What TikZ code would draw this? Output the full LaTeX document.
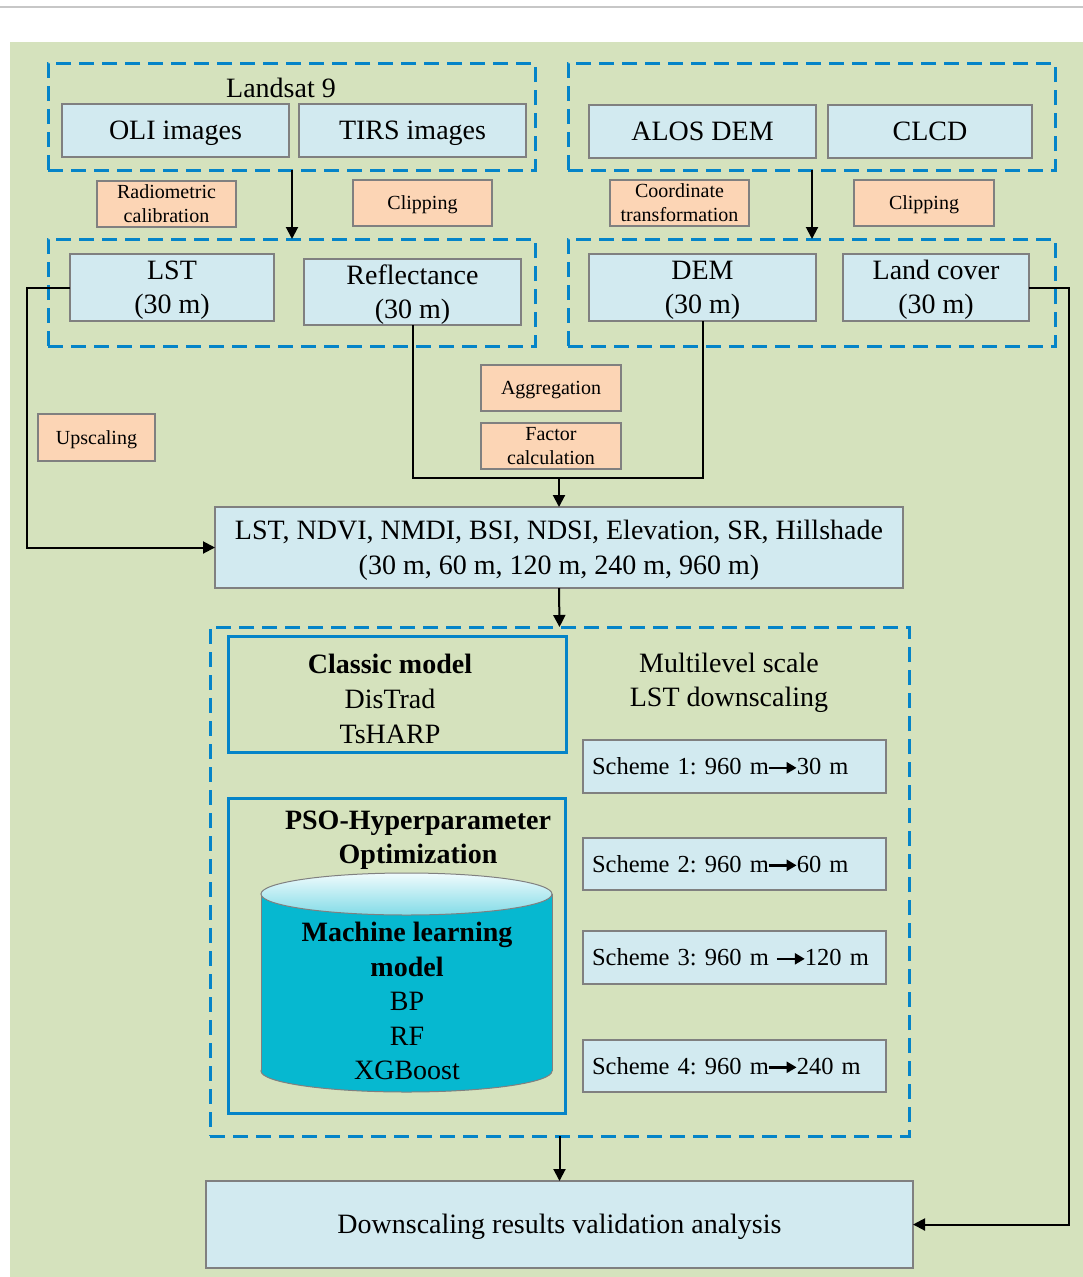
\documentclass[tikz,border=0pt]{standalone}
\usepackage{fontspec}
\setmainfont{Liberation Serif}
\usetikzlibrary{arrows.meta,calc}
\definecolor{bgc}{RGB}{213,226,189}
\definecolor{lb}{RGB}{210,234,240}
\definecolor{orc}{RGB}{252,213,181}
\definecolor{dblue}{RGB}{5,132,200}
\definecolor{cylc}{RGB}{6,184,208}
\definecolor{bord}{RGB}{128,128,128}
\newcommand{\sarrow}{\hspace{-1.5pt}\tikz[x=1pt,y=1pt,baseline=-7pt]\draw[black,line width=2.4pt,-{Triangle[length=10pt,width=11pt]}] (0,0) -- (28,0);\hspace{-1pt}}
\newcommand{\ml}[1]{\begin{tabular}[t]{@{}c@{}}#1\end{tabular}}
\frenchspacing
\begin{document}
\begin{tikzpicture}[x=1pt,y=-1pt,
 every node/.style={inner sep=0pt, outer sep=0pt},
 bbox/.style={draw=bord, fill=lb, line width=1.2pt, font=\fontsize{28}{34}\selectfont},
 bone/.style={bbox, text height=18.6pt, text depth=0pt},
 btwo/.style={bbox, text height=18.6pt, text depth=34pt},
 obox/.style={draw=bord, fill=orc, line width=1.2pt, font=\fontsize{20}{24}\selectfont},
 oone/.style={obox, text height=13.2pt, text depth=0pt},
 otwo/.style={obox, text height=13.2pt, text depth=24pt},
 sbox/.style={draw=bord, fill=lb, line width=1.2pt, align=left, minimum width=303pt, text width=285pt, font=\fontsize{24.5}{28}\selectfont},
 grp/.style={draw=dblue, line width=3pt, dash pattern=on 15pt off 8pt},
 sgrp/.style={draw=dblue, line width=3pt},
 arr/.style={line width=2pt, -{Triangle[length=12pt,width=12pt]}},
 conn/.style={line width=2pt},
 txt/.style={align=center, font=\fontsize{28}{35}\selectfont},
]
\useasboundingbox (0,0) rectangle (1083,1277);
\draw[black!22, line width=1.5pt] (0,7) -- (1083,7);
\fill[bgc] (10,42) rectangle (1083,1277);

% dashed groups
\node[grp, minimum width=487pt, minimum height=107pt] (gA) at (291.5,116.5) {};
\node[grp, minimum width=487pt, minimum height=107pt] (gB) at (811.5,116.5) {};
\node[grp, minimum width=487pt, minimum height=107pt] (gC) at (291.5,292.5) {};
\node[grp, minimum width=487pt, minimum height=107pt] (gD) at (811.5,292.5) {};
\node[grp, minimum width=699pt, minimum height=509pt] (gE) at (559.5,881.5) {};

% top row
\node[txt] (landsat) at (281,88) {Landsat 9};
\node[bone, minimum width=227pt, minimum height=53pt] (oli) at (175.5,130.5) {OLI images};
\node[bone, minimum width=227pt, minimum height=53pt] (tirs) at (412.5,130.5) {TIRS images};
\node[bone, minimum width=227pt, minimum height=53pt] (alos) at (702.5,131.5) {ALOS DEM};
\node[bone, minimum width=204pt, minimum height=53pt] (clcd) at (930,131.5) {CLCD};

% processing labels
\node[otwo, minimum width=139pt, minimum height=46pt] (rad) at (166.5,204) {\ml{Radiometric\\calibration}};
\node[oone, minimum width=139pt, minimum height=46pt] (clip1) at (422.5,203) {Clipping};
\node[otwo, minimum width=139pt, minimum height=46pt] (coord) at (679.5,203) {\ml{Coordinate\\transformation}};
\node[oone, minimum width=140pt, minimum height=46pt] (clip2) at (924,203) {Clipping};

% second row
\node[btwo, minimum width=204pt, minimum height=67pt] (lst) at (172,287.5) {\ml{LST\\(30 m)}};
\node[btwo, minimum width=217pt, minimum height=66pt] (refl) at (412.5,292) {\ml{Reflectance\\(30 m)}};
\node[btwo, minimum width=227pt, minimum height=67pt] (dem) at (702.5,287.5) {\ml{DEM\\(30 m)}};
\node[btwo, minimum width=186pt, minimum height=67pt] (land) at (936,287.5) {\ml{Land cover\\(30 m)}};

\node[oone, minimum width=117pt, minimum height=47pt] (up) at (96.5,437.5) {Upscaling};
\node[oone, minimum width=140pt, minimum height=46pt] (agg) at (551,388) {Aggregation};
\node[otwo, minimum width=140pt, minimum height=46pt] (fac) at (551,446) {\ml{Factor\\calculation}};

\node[bbox, font=\fontsize{28}{35}\selectfont, text height=18.6pt, text depth=35pt, minimum width=688pt, minimum height=81pt] (feat) at (559,547.5) {\ml{LST, NDVI, NMDI, BSI, NDSI, Elevation, SR, Hillshade\\(30 m, 60 m, 120 m, 240 m, 960 m)}};

% models
\node[sgrp, minimum width=338pt, minimum height=116pt] (classic) at (397,694) {};
\node[txt] (classictxt) at (390,698.5) {\textbf{Classic model}\\DisTrad\\TsHARP};
\node[txt, font=\fontsize{28}{34}\selectfont] (multi) at (729,683) {Multilevel scale\\LST downscaling};

\node[sgrp, minimum width=337pt, minimum height=315pt] (pso) at (396.5,955.5) {};
\node[txt, font=\fontsize{28}{34}\selectfont\bfseries] (psotxt) at (418,840) {PSO-Hyperparameter\\Optimization};

% cylinder
\draw[draw=bord, line width=1pt, fill=cylc] (406.5,1071) ellipse [x radius=145.5, y radius=21];
\fill[cylc] (261,894) rectangle (552,1071);
\draw[bord, line width=1pt] (261,894) -- (261,1071) (552,894) -- (552,1071);
\shadedraw[draw=bord, line width=1pt, top color=cylc!6, bottom color=cylc!50] (406.5,894) ellipse [x radius=145.5, y radius=21];
\node[txt, font=\fontsize{28}{34.5}\selectfont] (ml) at (407,1001) {\textbf{Machine learning}\\\textbf{model}\\BP\\RF\\XGBoost};

% schemes
\node[sbox, minimum height=53pt] (s1) at (734.5,766.5) {Scheme 1: 960 m\sarrow30 m};
\node[sbox, minimum height=52pt] (s2) at (734.5,864) {Scheme 2: 960 m\sarrow60 m};
\node[sbox, minimum height=53pt] (s3) at (734.5,957.5) {Scheme 3: 960 m \sarrow120 m};
\node[sbox, minimum height=52pt] (s4) at (734.5,1066) {Scheme 4: 960 m\sarrow240 m};

% final
\node[bone, minimum width=707pt, minimum height=87pt] (final) at (559.5,1224.5) {Downscaling results validation analysis};

% connectors
\coordinate (a1) at (292,170);
\coordinate (a2) at (812,170);
\draw[arr] (a1) -- (a1 |- gC.north);
\draw[arr] (a2) -- (a2 |- gD.north);
\draw[arr] (lst.west) -- ++(-43,0) |- (feat.west);
\coordinate (j) at (559,478);
\draw[conn] (refl.south) |- (j) -| (dem.south);
\draw[arr] (j) -- (feat.north);
\draw[arr] (feat.south) -- (gE.north);
\draw[arr] (gE.south) -- (final.north);
\draw[arr] (land.east) -- ++(40,0) |- (final.east);
\end{tikzpicture}
\end{document}
